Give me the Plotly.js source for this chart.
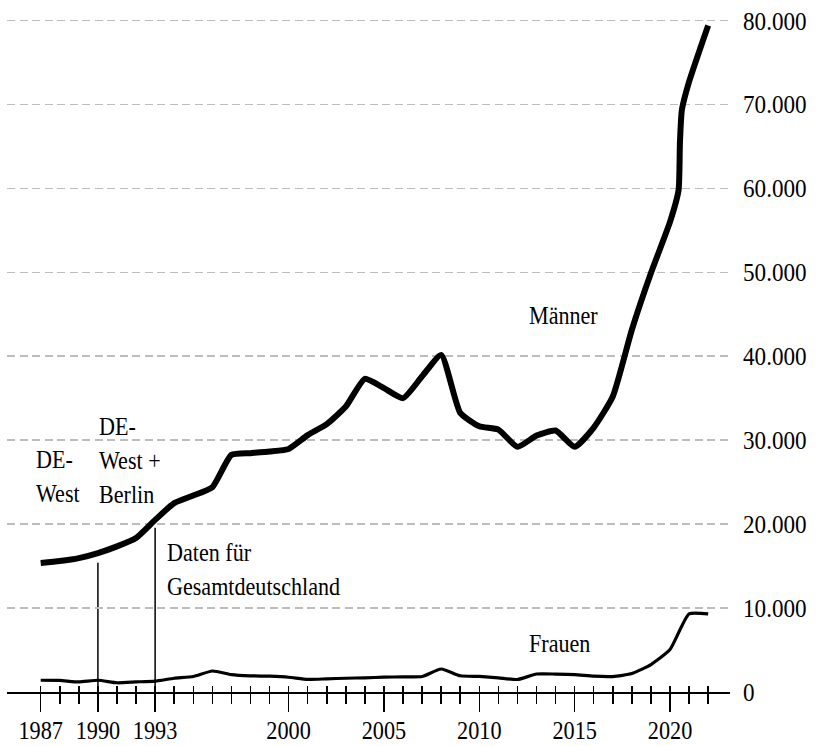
<!DOCTYPE html>
<html>
<head>
<meta charset="utf-8">
<script src="https://cdn.plot.ly/plotly-3.0.1.min.js"></script>
<style>
  html, body { margin: 0; padding: 0; background: #fff; overflow: hidden; }
  #chart { width: 816px; height: 746px; }
</style>
</head>
<body>
<div id="chart"></div>
<script>
// ---- Data ----
const maennerYears = [1987, 1988, 1989, 1990, 1991, 1992, 1993, 1994, 1995, 1996,
  1997, 1998, 1999, 2000, 2001, 2002, 2003, 2004, 2005, 2006,
  2007, 2008, 2009, 2010, 2011, 2012, 2013, 2014, 2015, 2016,
  2017, 2018, 2019, 2020, 2020.45, 2020.52, 2020.62, 2021, 2022];
const maennerValues = [15370, 15600, 15950, 16550, 17350, 18350, 20500, 22500, 23400, 24400,
  28250, 28450, 28650, 28950, 30600, 31900, 34000, 37300, 36200, 35000,
  37600, 40150, 33250, 31650, 31250, 29200, 30550, 31150, 29200, 31500,
  35200, 43150, 49900, 56000, 59800, 65400, 69300, 72700, 79400];

const frauenYears = [1987, 1988, 1989, 1990, 1991, 1992, 1993, 1994, 1995, 1996,
  1997, 1998, 1999, 2000, 2001, 2002, 2003, 2004, 2005, 2006,
  2007, 2008, 2009, 2010, 2011, 2012, 2013, 2014, 2015, 2016,
  2017, 2018, 2019, 2020, 2021, 2022];
const frauenValues = [1400, 1380, 1200, 1400, 1100, 1200, 1300, 1640, 1840, 2500,
  2080, 1930, 1880, 1760, 1500, 1570, 1640, 1690, 1760, 1810,
  1840, 2740, 1930, 1850, 1690, 1490, 2140, 2140, 2080, 1880,
  1840, 2200, 3270, 5060, 9300, 9300];

const majorTickYears = [1987, 1990, 1993, 2000, 2005, 2010, 2015, 2020];
const majorTickLabels = ['1987', '1990', '1993', '2000', '2005', '2010', '2015', '2020'];
const allTickYears = [1987, 1988, 1989, 1990, 1991, 1992, 1993, 1994, 1995, 1996,
  1997, 1998, 1999, 2000, 2001, 2002, 2003, 2004, 2005, 2006,
  2007, 2008, 2009, 2010, 2011, 2012, 2013, 2014, 2015, 2016,
  2017, 2018, 2019, 2020, 2021, 2022];
const yTickValues = [0, 10000, 20000, 30000, 40000, 50000, 60000, 70000, 80000];

const seriesLabels = ['Männer', 'Frauen'];
const markerYears = [1990, 1993];
const markerTops = [15400, 19570];

// ---- Chart ----
const FONT = 'Liberation Serif, Times New Roman, serif';
const xRange = [1985.233, 2023.146];
const CONDENSE_TICKS = 0.89;   // the reference uses a narrow serif face
const CONDENSE_NOTES = 0.85;

const emptyOn = ax => ({ x: [], y: [], xaxis: ax, yaxis: 'y', type: 'scatter', mode: 'lines',
  hoverinfo: 'skip', showlegend: false });

const traces = [
  { x: maennerYears, y: maennerValues, name: seriesLabels[0], type: 'scatter', mode: 'lines',
    line: { color: '#000', width: 6, shape: 'spline', smoothing: 0.5 }, hoverinfo: 'skip' },
  { x: frauenYears, y: frauenValues, name: seriesLabels[1], type: 'scatter', mode: 'lines',
    line: { color: '#000', width: 3.2, shape: 'spline', smoothing: 0.5 }, hoverinfo: 'skip' },
  emptyOn('x2'), emptyOn('x3'), emptyOn('x4')
];

const tickCommon = { tickwidth: 1.5, tickcolor: '#000', showgrid: false, zeroline: false, fixedrange: true };
const overlay = { overlaying: 'x', anchor: 'y', side: 'bottom', range: xRange,
  showticklabels: false, showline: false, tickmode: 'array' };

const layout = {
  width: 816, height: 746,
  margin: { l: 7, r: 86, t: 12, b: 54 },
  paper_bgcolor: '#fff', plot_bgcolor: '#fff',
  font: { family: FONT, size: 27, color: '#000' },
  separators: ',.',
  showlegend: false,
  // axis line + labels
  xaxis: Object.assign({
    range: xRange,
    tickmode: 'array', tickvals: majorTickYears, ticktext: majorTickLabels,
    ticks: 'outside', ticklen: 15,
    tickfont: { family: FONT, size: 25, color: '#000' },
    showline: true, linecolor: '#000', linewidth: 1.5
  }, tickCommon),
  // short inside part of every tick
  xaxis2: Object.assign({}, overlay, { tickvals: allTickYears, ticks: 'inside', ticklen: 6 }, tickCommon),
  // every-year outside ticks
  xaxis3: Object.assign({}, overlay, { tickvals: allTickYears, ticks: 'outside', ticklen: 11 }, tickCommon),
  // long ticks at the labelled years
  xaxis4: Object.assign({}, overlay, { tickvals: majorTickYears, ticks: 'outside', ticklen: 19 }, tickCommon),
  yaxis: {
    side: 'right', range: [0, 81000], fixedrange: true,
    tickmode: 'array', tickvals: yTickValues, tickformat: ',d',
    tickfont: { family: FONT, size: 26, color: '#000' },
    ticks: '', ticklabelstandoff: 12,
    showgrid: true, gridcolor: '#bdbdbd', gridwidth: 1.5, griddash: '8px,4.5px',
    zeroline: false, showline: false
  },
  shapes: markerYears.map((yr, i) => ({
    type: 'line', xref: 'x', yref: 'y', x0: yr, x1: yr, y0: 0, y1: markerTops[i],
    line: { color: '#000', width: 1.5 }, layer: 'below'
  })),
  annotations: [
    { text: 'DE-<br>West', x: 1986.65, y: 25640 },
    { text: 'DE-<br>West +<br>Berlin', x: 1989.95, y: 27540 },
    { text: 'Daten für<br>Gesamtdeutschland', x: 1993.52, y: 14570 },
    { text: seriesLabels[0], x: 2012.5, y: 44790 },
    { text: seriesLabels[1], x: 2012.5, y: 5770 }
  ].map(a => Object.assign({
    xref: 'x', yref: 'y', showarrow: false, xanchor: 'left', yanchor: 'middle', align: 'left',
    font: { family: FONT, size: 26, color: '#000' }
  }, a))
};

// Narrow the glyphs horizontally (keeps text as real text)
function condenseText(gd) {
  const texts = gd.querySelectorAll('svg text');
  texts.forEach(t => {
    const factor = t.closest('.annotation') ? CONDENSE_NOTES : CONDENSE_TICKS;
    const lines = t.querySelectorAll('tspan.line');
    const targets = lines.length ? Array.from(lines) : [t];
    targets.forEach(el => {
      let len = 0;
      try { len = el.getComputedTextLength(); } catch (e) { len = 0; }
      if (len > 0) {
        el.setAttribute('textLength', (len * factor).toFixed(2));
        el.setAttribute('lengthAdjust', 'spacingAndGlyphs');
      }
    });
  });
}

const gd = document.getElementById('chart');
Plotly.newPlot(gd, traces, layout, { staticPlot: true, displayModeBar: false })
  .then(() => condenseText(gd));
</script>
</body>
</html>
